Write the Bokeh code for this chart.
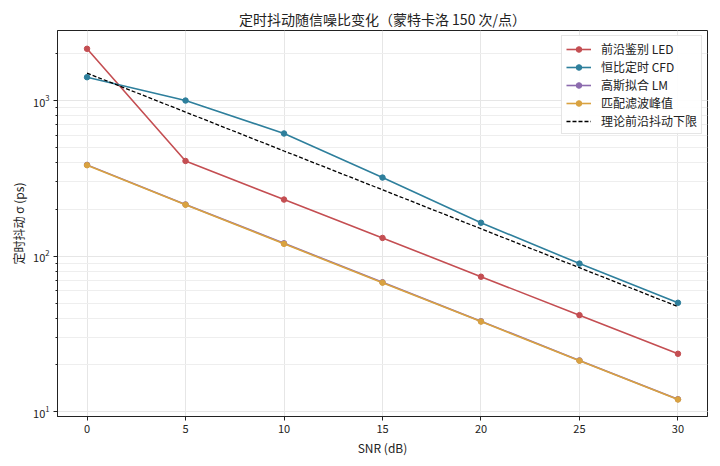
from bokeh.plotting import figure
from bokeh.models import Legend, LegendItem, FixedTicker, LogTicker, Range1d
from bokeh.embed import file_html
from bokeh.resources import INLINE

snr = [0, 5, 10, 15, 20, 25, 30]
led = [2150, 409, 231, 131, 73.8, 41.8, 23.6]
cfd = [1412, 1000, 614, 320, 164, 89.6, 50.2]
lm = [386, 215, 121, 68.0, 38.2, 21.4, 12.05]
mf = [384, 214, 120, 67.6, 38.0, 21.3, 12.0]
theory = [1500, 843, 474, 267, 150, 84.3, 47.4]

names = ["前沿鉴别 LED", "恒比定时 CFD", "高斯拟合 LM", "匹配滤波峰值", "理论前沿抖动下限"]
colors = ["#c44e52", "#2e7f9c", "#8c6bae", "#d9a240"]
FONT = "Noto Sans CJK SC"

p = figure(frame_width=650, frame_height=386, y_axis_type="log",
           x_range=Range1d(-1.5, 31.5), y_range=Range1d(9.33, 2818),
           output_backend="svg", toolbar_location=None,
           title="定时抖动随信噪比变化（蒙特卡洛 150 次/点）",
           min_border_left=57, min_border_right=5, min_border_top=30, min_border_bottom=42)

p.title.align = "center"
p.title.text_font = FONT
p.title.text_font_size = "14px"
p.title.text_font_style = "normal"
p.title.text_color = "#222222"
p.title.standoff = 3

p.outline_line_color = "#222222"
p.outline_line_width = 1
p.background_fill_color = "white"

for ax in (p.xaxis[0], p.yaxis[0]):
    ax.axis_line_color = "#222222"
    ax.major_tick_line_color = "#222222"
    ax.minor_tick_line_color = "#222222"
    ax.major_tick_out = 4
    ax.major_tick_in = 0
    ax.major_label_standoff = 4
    ax.axis_label_standoff = 3
    ax.major_label_text_font = FONT
    ax.major_label_text_font_size = "11px"
    ax.major_label_text_color = "#222222"
    ax.axis_label_text_font = FONT
    ax.axis_label_text_font_size = "12px"
    ax.axis_label_text_font_style = "normal"
    ax.axis_label_text_color = "#222222"

p.xaxis.ticker = FixedTicker(ticks=[0, 5, 10, 15, 20, 25, 30])
p.xaxis.minor_tick_line_color = None
p.xaxis.axis_label = "SNR (dB)"
p.yaxis.axis_label = "定时抖动 σ (ps)"
p.yaxis.ticker = LogTicker(num_minor_ticks=10)
p.yaxis.minor_tick_out = 2
p.yaxis.minor_tick_in = 0

p.xgrid.grid_line_color = "#e6e6e6"
p.ygrid.grid_line_color = "#e6e6e6"
p.ygrid.minor_grid_line_color = "#eeeeee"

items = []
series = [led, cfd, lm, mf]
for i, ys in enumerate(series):
    r1 = p.line(snr, ys, line_color=colors[i], line_width=1.6)
    r2 = p.scatter(snr, ys, size=5.5, fill_color=colors[i], line_color=colors[i])
    items.append(LegendItem(label=names[i], renderers=[r1, r2]))

rt = p.line(snr, theory, line_color="black", line_width=1.3, line_dash="4 2")
items.append(LegendItem(label=names[4], renderers=[rt]))

legend = Legend(items=items, location="top_right")
legend.label_text_font = FONT
legend.label_text_font_size = "12px"
legend.label_text_color = "#222222"
legend.border_line_color = "#cccccc"
legend.border_line_width = 1
legend.background_fill_alpha = 0.9
legend.glyph_width = 25
legend.glyph_height = 14
legend.spacing = 1
legend.padding = 4
legend.margin = 5
legend.label_standoff = 10
p.add_layout(legend)

open("out.html", "w").write(file_html(p, INLINE))
